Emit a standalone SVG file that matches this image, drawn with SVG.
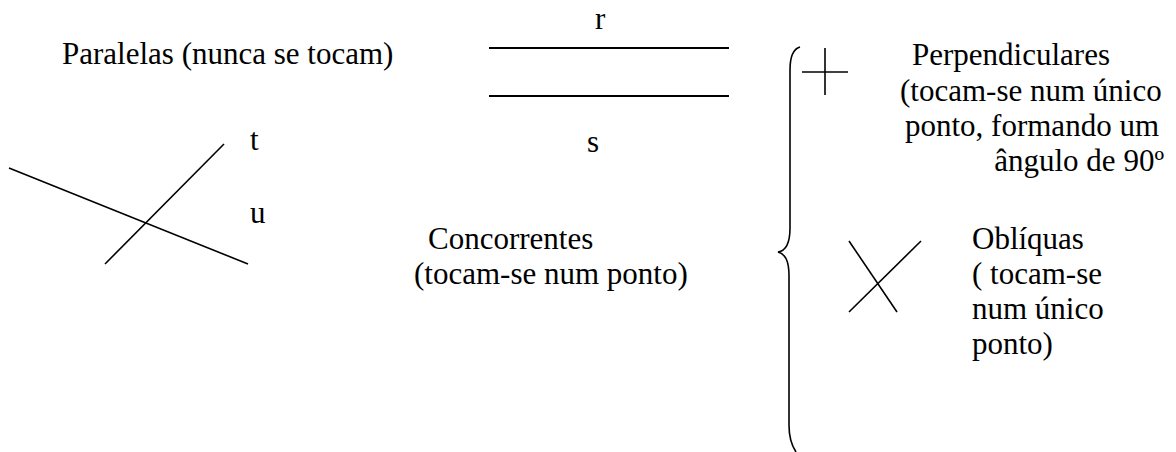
<svg xmlns="http://www.w3.org/2000/svg" width="1176" height="452" viewBox="0 0 1176 452">
  <style>
    .lbl { font-family: "Liberation Serif", "Times New Roman", serif; font-size: 31px; fill: #000; }
    .ln { stroke: #000; stroke-width: 1.6; fill: none; }
    .par { stroke: #000; stroke-width: 2.2; fill: none; }
  </style>
  <rect width="1176" height="452" fill="#fff"/>

  <!-- parallel lines r and s -->
  <g id="paralelas">
    <text class="lbl" x="62" y="64">Paralelas (nunca se tocam)</text>
    <line class="par" x1="489" y1="48" x2="729" y2="48"/>
    <line class="par" x1="489" y1="96" x2="729" y2="96"/>
    <text class="lbl" x="595" y="29">r</text>
    <text class="lbl" x="587" y="152">s</text>
  </g>

  <!-- intersecting lines t and u -->
  <g id="concorrentes-figura">
    <line class="ln" x1="9" y1="168" x2="248" y2="264"/>
    <line class="ln" x1="105" y1="264" x2="224" y2="144"/>
    <text class="lbl" x="250" y="150">t</text>
    <text class="lbl" x="250" y="223">u</text>
  </g>

  <g id="concorrentes">
    <text class="lbl" x="428" y="249">Concorrentes</text>
    <text class="lbl" x="414" y="284">(tocam-se num ponto)</text>
  </g>

  <!-- curly brace -->
  <g id="chaveta">
    <path class="ln" d="M800,47 C793,49 790,56 790,70 L790,228 C790,244 785,251 778,252 C785,254 789,260 789,276 L789,425 C789,438 792,446 796,452"/>
  </g>

  <!-- perpendicular lines -->
  <g id="perpendiculares">
    <line class="ln" x1="802" y1="72" x2="848" y2="72"/>
    <line class="ln" x1="825" y1="48" x2="825" y2="95"/>
    <text class="lbl" x="912" y="65">Perpendiculares</text>
    <text class="lbl" x="900" y="101">(tocam-se num único</text>
    <text class="lbl" x="905" y="136">ponto, formando um</text>
    <text class="lbl" x="1164" y="171" text-anchor="end">ângulo de 90º</text>
  </g>

  <!-- oblique lines -->
  <g id="obliquas">
    <line class="ln" x1="849" y1="241" x2="897" y2="312"/>
    <line class="ln" x1="921" y1="241" x2="849" y2="312"/>
    <text class="lbl" x="972" y="249">Oblíquas</text>
    <text class="lbl" x="972" y="284">( tocam-se</text>
    <text class="lbl" x="972" y="319">num único</text>
    <text class="lbl" x="972" y="354">ponto)</text>
  </g>
</svg>
